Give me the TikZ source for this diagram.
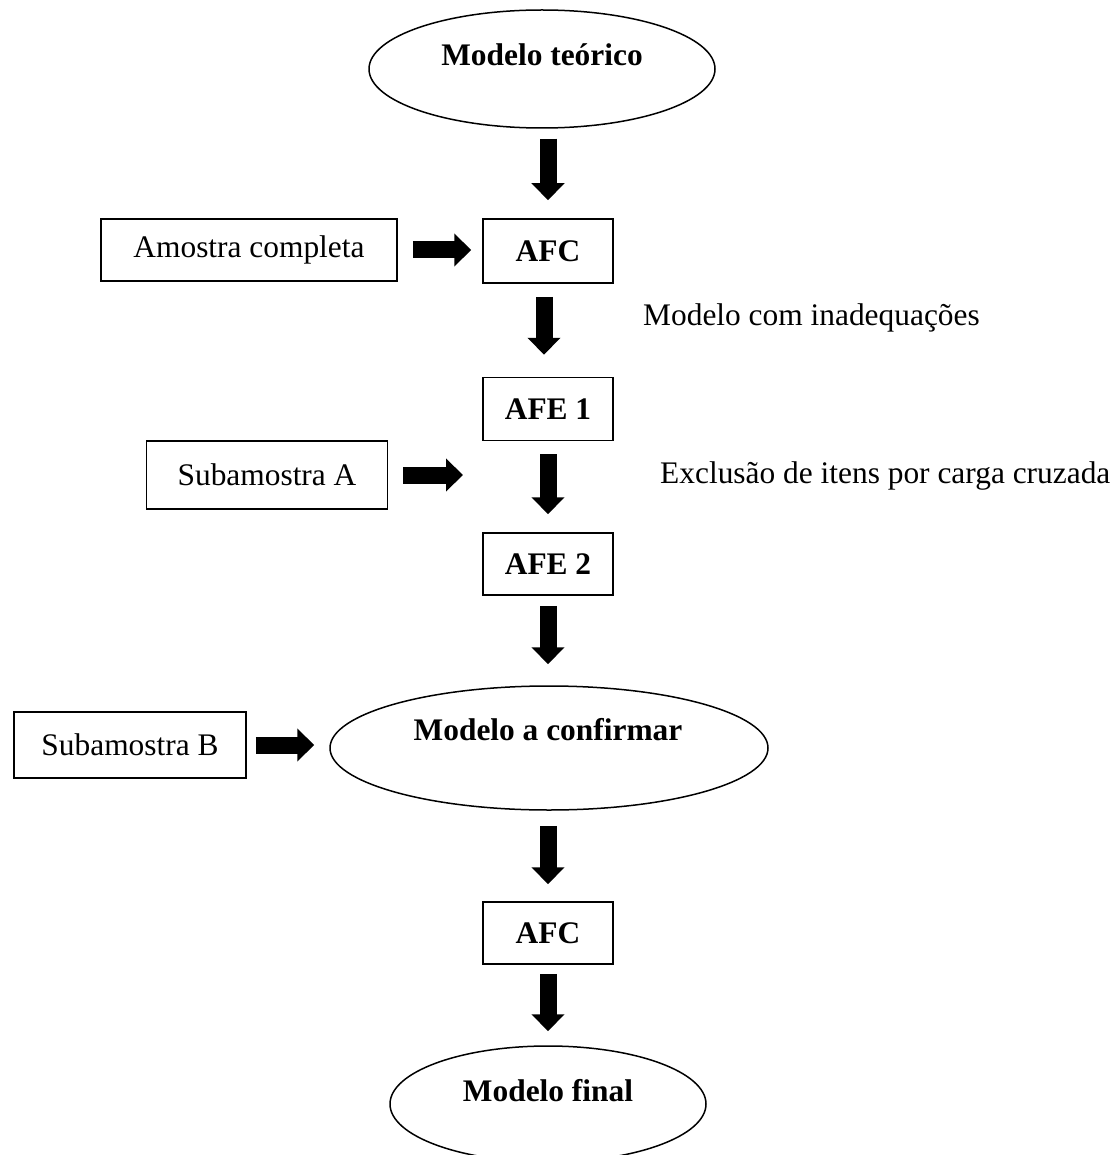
\documentclass[tikz,border=0pt]{standalone}
\usepackage{fontspec}
\setmainfont{Liberation Serif}
\usetikzlibrary{arrows.meta,shapes.geometric}
\begin{document}
\begin{tikzpicture}[x=1pt,y=-1pt,
  every node/.style={font=\fontsize{31.4}{37}\selectfont},
  bold/.style={font=\fontsize{31.4}{37}\selectfont\bfseries},
  box/.style={draw, line width=1.5pt, inner sep=0pt},
  oval/.style={draw, ellipse, line width=1.5pt, inner sep=0pt},
  lbl/.style={inner sep=0pt},
  blockarrow/.style={line width=17pt, -{Triangle[length=17pt,width=32pt]}},
]
\useasboundingbox (0,0) rectangle (1118,1155);
\clip (0,0) rectangle (1118,1155);

% ellipses
\node[oval, minimum width=346pt, minimum height=118pt] (m1) at (542,69) {};
\node[lbl, bold] (m1t) at (542,55) {Modelo teórico};
\node[oval, minimum width=438pt, minimum height=124pt] (m2) at (549,748) {};
\node[lbl, bold] (m2t) at (548,730) {Modelo a confirmar};
\node[oval, minimum width=316pt, minimum height=116pt] (m3) at (548,1104) {};
\node[lbl, bold] (m3t) at (548,1091) {Modelo final};

% boxes
\node[box, bold, minimum width=130pt, minimum height=64pt] (afc1) at (548,251) {AFC};
\node[box, minimum width=296pt, minimum height=62pt] (am) at (249,250) {Amostra completa};
\node[box, bold, minimum width=130pt, minimum height=63pt] (afe1) at (548,409) {AFE 1};
\node[box, minimum width=241pt, minimum height=68pt] (sa) at (267,475) {Subamostra A};
\node[box, bold, minimum width=130pt, minimum height=62pt] (afe2) at (548,564) {AFE 2};
\node[box, minimum width=232pt, minimum height=66pt] (sb) at (130,745) {Subamostra B};
\node[box, bold, minimum width=130pt, minimum height=62pt] (afc2) at (548,933) {AFC};

% side texts
\node[lbl, anchor=west] (t1) at (643,318) {Modelo com inadequações};
\node[lbl, anchor=west] (t2) at (660,476) {Exclusão de itens por carga cruzada};

\coordinate (saend) at (463,475);

% vertical arrows
\draw[blockarrow] ([yshift=-10pt]m1.south -| afc1) -- ([yshift=18pt]afc1.north);
\draw[blockarrow] ([xshift=-4pt,yshift=-13pt]afc1.south) -- ([xshift=-4pt,yshift=22pt]afe1.north);
\draw[blockarrow] ([yshift=-13pt]afe1.south) -- ([yshift=18pt]afe2.north);
\draw[blockarrow] ([yshift=-10pt]afe2.south) -- ([yshift=21pt]m2.north -| afe2);
\draw[blockarrow] ([yshift=-15pt]m2.south -| afc2) -- ([yshift=17pt]afc2.north);
\draw[blockarrow] ([yshift=-9pt]afc2.south) -- ([yshift=14pt]m3.north);

% horizontal arrows
\draw[blockarrow] ([xshift=15pt]am.east) -- ([xshift=-11pt]afc1.west |- am.east);
\draw[blockarrow] ([xshift=15pt]sa.east) -- (saend);
\draw[blockarrow] ([xshift=9pt]sb.east) -- ([xshift=-15pt]m2.west |- sb.east);
\end{tikzpicture}
\end{document}
